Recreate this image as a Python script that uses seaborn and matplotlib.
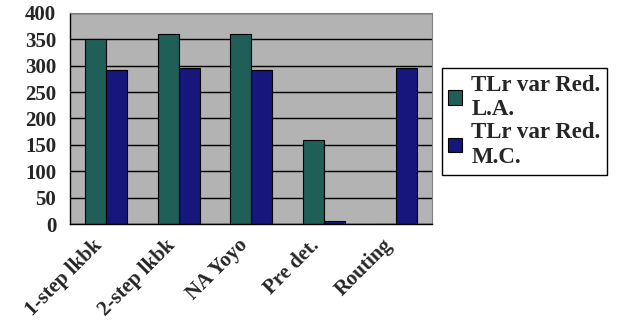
import numpy as np
import pandas as pd
import matplotlib
matplotlib.use("Agg")
import matplotlib.pyplot as plt
import matplotlib.transforms as mtransforms
import seaborn as sns

CATEGORIES = ["1-step lkbk", "2-step lkbk", "NA Yoyo", "Pre det.", "Routing"]
SERIES = ["TLr var Red.\nL.A.", "TLr var Red.\nM.C."]
LA_VALUES = [350, 360, 360, 160, 0]
MC_VALUES = [292, 295, 292, 5, 295]
COLORS = ["#1f5f57", "#16167c"]


def main():
    df = pd.DataFrame({
        "method": CATEGORIES * 2,
        "value": LA_VALUES + MC_VALUES,
        "series": [SERIES[0]] * len(CATEGORIES) + [SERIES[1]] * len(CATEGORIES),
    })

    sns.set_style("white")
    plt.rcParams["font.family"] = ["Liberation Serif", "DejaVu Serif"]
    plt.rcParams["font.weight"] = "bold"

    fig = plt.figure(figsize=(6.21, 3.29), dpi=100)
    ax = fig.add_axes([0.113, 0.319, 0.583, 0.642])
    ax.set_facecolor("#b3b3b3")

    sns.barplot(data=df, x="method", y="value", hue="series", order=CATEGORIES,
                hue_order=SERIES, palette=COLORS, width=0.58, edgecolor="black",
                linewidth=0.8, saturation=1, ax=ax, legend=True)

    ax.set_ylim(0, 400)
    ax.set_xlim(-0.5, len(CATEGORIES) - 0.5)
    ax.set_yticks(np.arange(0, 401, 50))
    ax.yaxis.grid(True, color="black", linewidth=1.0)
    ax.set_axisbelow(True)
    ax.set_xlabel("")
    ax.set_ylabel("")

    ax.set_xticks(np.arange(len(CATEGORIES)))
    ax.set_xticklabels(CATEGORIES, rotation=45, ha="right", rotation_mode="anchor",
                       fontsize=15, fontweight="bold")
    ax.set_xticks(np.arange(-0.5, len(CATEGORIES)), minor=True)
    ax.tick_params(axis="x", which="major", length=0, pad=8)
    ax.tick_params(axis="x", which="minor", length=6, width=1, color="black", direction="out")
    ax.tick_params(axis="y", length=7, width=1, color="black", direction="out",
                   labelsize=15, pad=3)
    for lab in ax.get_yticklabels():
        lab.set_fontweight("bold")

    # shift the rotated labels a bit to the left, like the original
    shift = mtransforms.ScaledTranslation(-14 / 100, 0, fig.dpi_scale_trans)
    for lab in ax.get_xticklabels():
        lab.set_transform(lab.get_transform() + shift)

    for side in ["left", "bottom"]:
        ax.spines[side].set_color("black")
        ax.spines[side].set_linewidth(1.0)
    for side in ["top", "right"]:
        ax.spines[side].set_color("#808080")
        ax.spines[side].set_linewidth(0.8)

    handles, labels = ax.get_legend_handles_labels()
    ax.get_legend().remove()
    leg = fig.legend(handles, labels, loc="upper left", bbox_to_anchor=(0.711, 0.793),
                     frameon=True, fancybox=False, edgecolor="black", framealpha=1,
                     prop={"family": "Liberation Serif", "weight": "bold", "size": 16.5},
                     handlelength=0.6, handleheight=0.6, handletextpad=0.4,
                     labelspacing=0.1, borderpad=0.3, borderaxespad=0)
    leg.get_frame().set_linewidth(1.0)

    fig.savefig("out.png", dpi=100)


if __name__ == "__main__":
    main()
